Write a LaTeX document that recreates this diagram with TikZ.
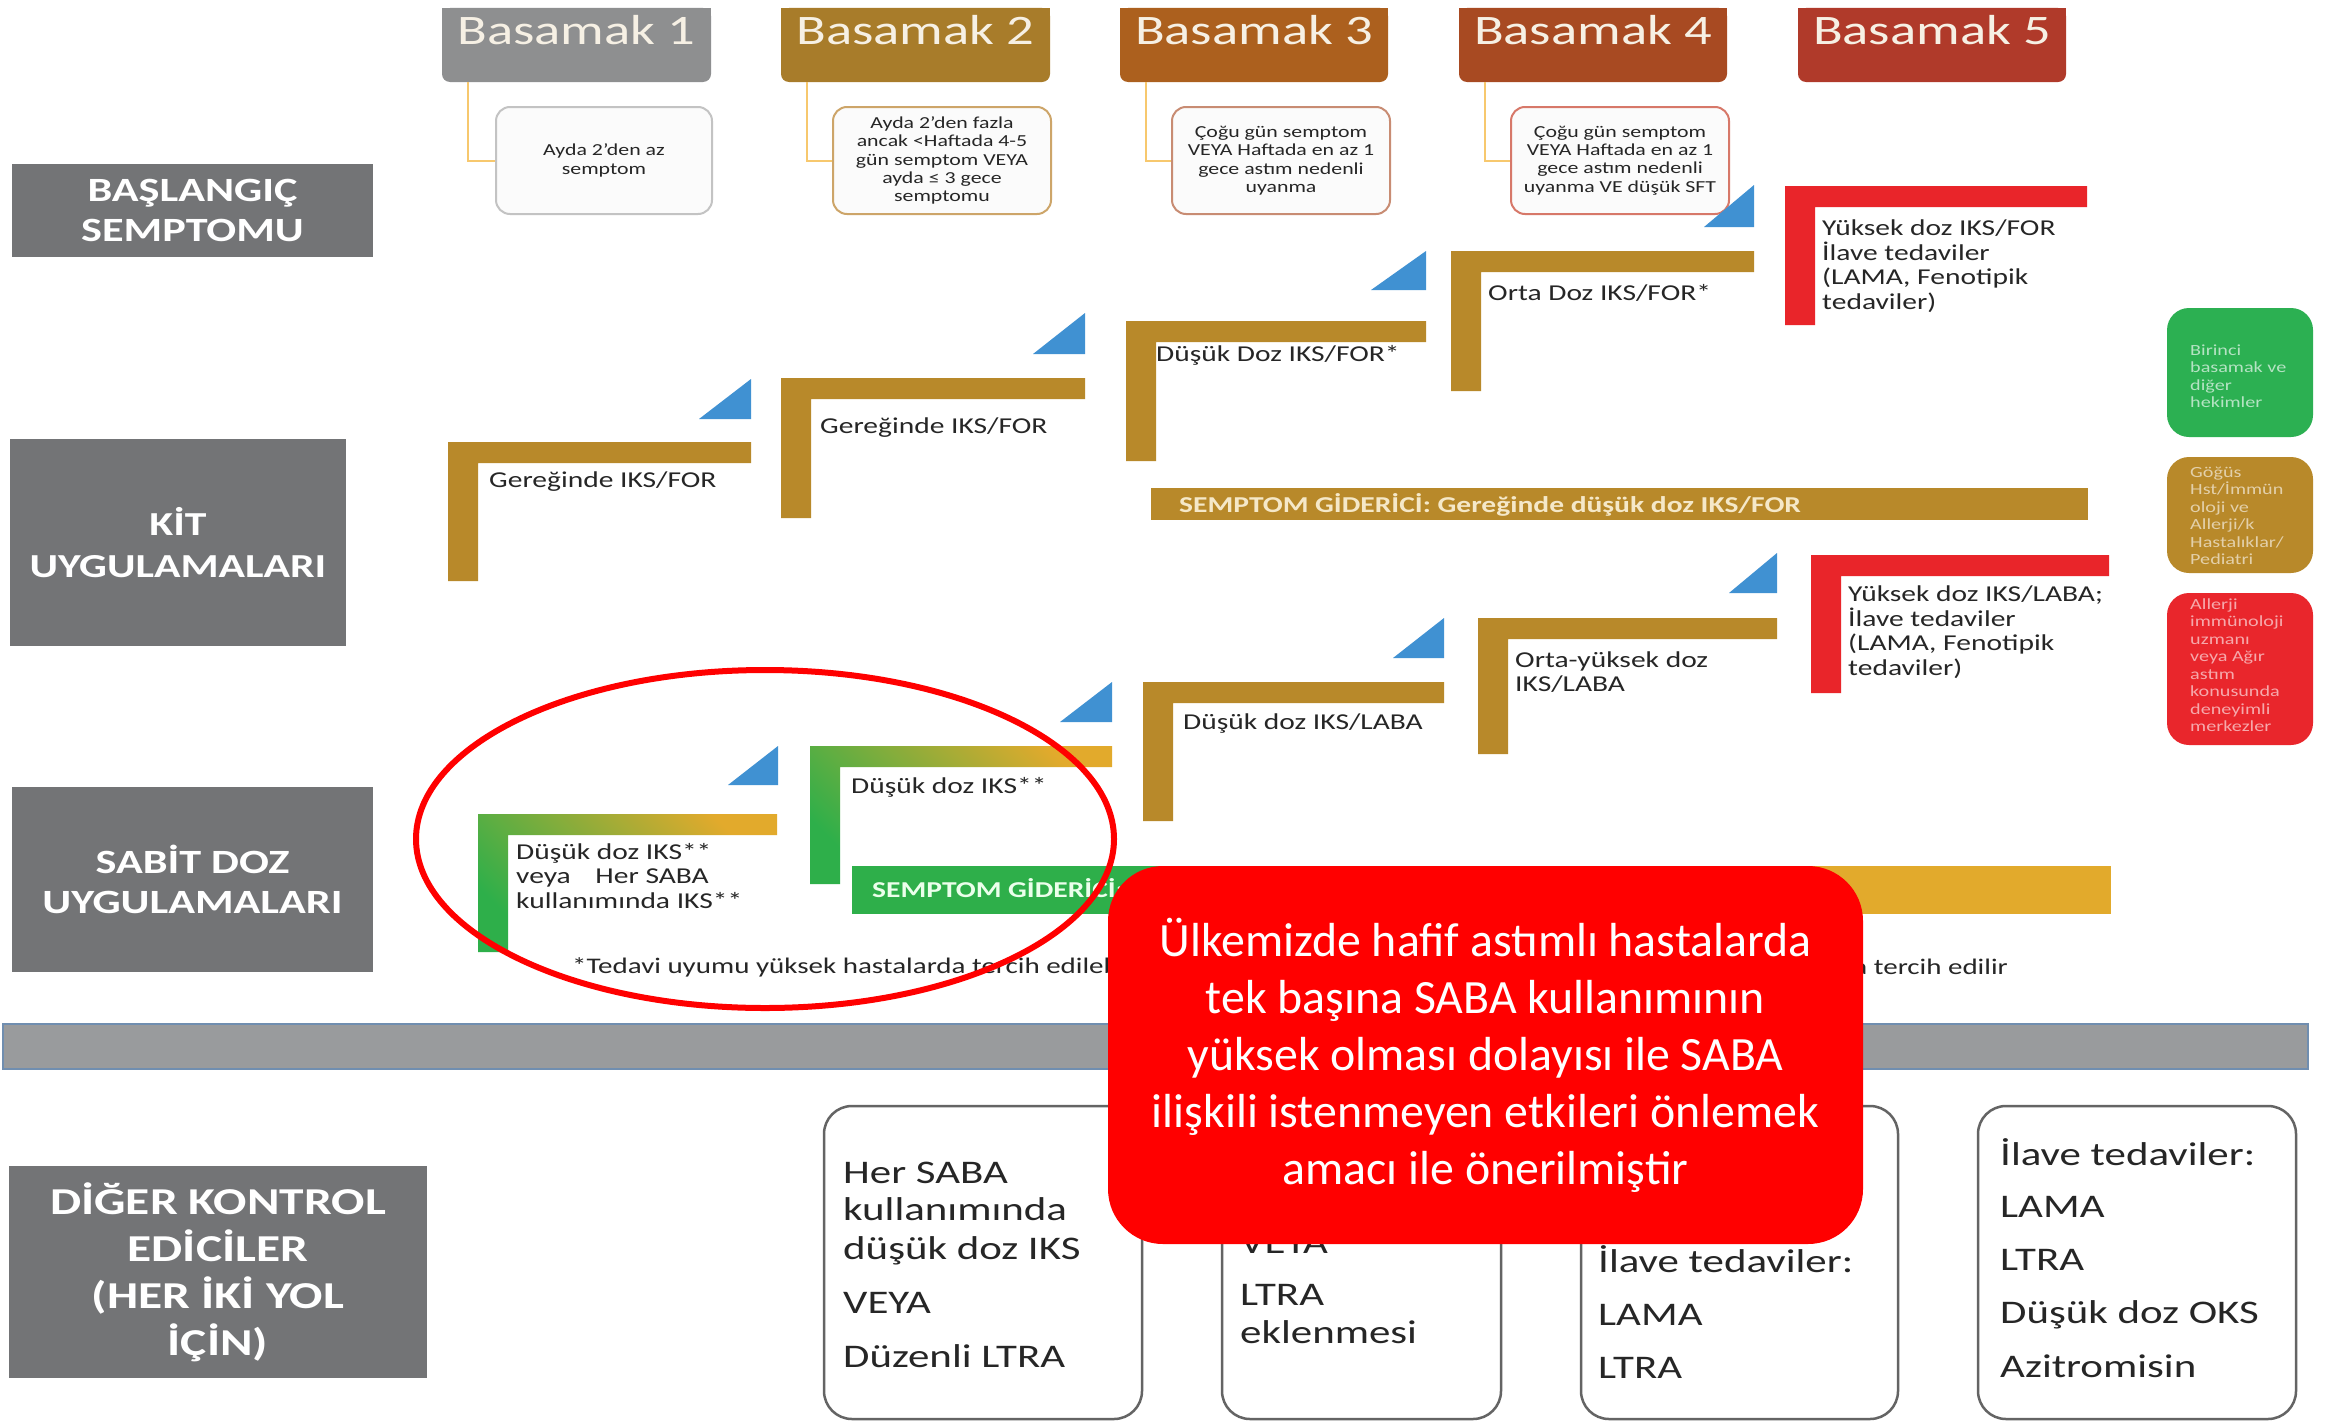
\documentclass[tikz,border=0pt]{standalone}
\usepackage{fontspec}
\setmainfont{Carlito}
\newfontfamily\widefont[FakeStretch=1.3]{Carlito}

\definecolor{hdrA}{RGB}{142,143,144}
\definecolor{hdrB}{RGB}{168,124,42}
\definecolor{hdrC}{RGB}{172,96,30}
\definecolor{hdrD}{RGB}{168,74,34}
\definecolor{hdrE}{RGB}{176,58,42}
\definecolor{hdrtext}{RGB}{246,240,228}
\definecolor{labelgrey}{RGB}{115,116,118}
\definecolor{stepgold}{RGB}{184,137,42}
\definecolor{stepred}{RGB}{233,37,42}
\definecolor{stepgreen}{RGB}{46,175,74}
\definecolor{brightgold}{RGB}{226,170,44}
\definecolor{triblue}{RGB}{64,145,210}
\definecolor{linkline}{RGB}{247,200,110}
\definecolor{bandgrey}{RGB}{153,155,157}
\definecolor{bandedge}{RGB}{112,142,176}
\definecolor{boxedge}{RGB}{100,100,100}
\definecolor{calloutred}{RGB}{255,0,0}
\definecolor{darktext}{RGB}{38,38,38}
\definecolor{cream}{RGB}{245,232,200}
\definecolor{legendgreen}{RGB}{44,176,82}
\definecolor{legendgold}{RGB}{184,137,42}
\definecolor{legendred}{RGB}{233,38,44}
\definecolor{sedgeA}{RGB}{195,195,195}
\definecolor{sedgeB}{RGB}{205,165,105}
\definecolor{sedgeC}{RGB}{200,140,115}
\definecolor{sedgeD}{RGB}{215,120,105}

% thick L-shaped stair step: corner (x0,y0), right end x1, bottom y1
\newcommand{\stair}[5]{%
  \path[#5] (#1,#2) -- (#3,#2) -- (#3,#2+21) -- (#1+30,#2+21) -- (#1+30,#4) -- (#1,#4) -- cycle;}
% small rising wedge: left x, right x, top y, bottom y
\newcommand{\risetri}[4]{\fill[triblue] (#1,#4) -- (#2,#4) -- (#2,#3) -- cycle;}

\tikzset{
  hdrbox/.style={rounded corners=8pt, minimum height=74pt, inner sep=0pt},
  hdrtxt/.style={anchor=base, inner sep=0pt, text=hdrtext,
    font=\widefont\fontsize{42}{48}\selectfont},
  sympbox/.style={rounded corners=14pt, line width=2pt, fill=white!97!gray,
    minimum height=107pt, inner sep=0pt, align=center, text=darktext,
    font=\widefont\fontsize{16.8}{18.4}\selectfont},
  link/.style={draw=linkline, line width=2pt},
  rowlabel/.style={fill=labelgrey, inner sep=0pt, align=center, text=white},
  steptxt/.style={anchor=west, inner sep=0pt, align=left, text=darktext,
    font=\widefont\fontsize{22.7}{24.5}\selectfont},
  bartxt/.style={anchor=west, inner sep=0pt, text=cream,
    font=\widefont\bfseries\fontsize{22.7}{26}\selectfont},
  foot/.style={inner sep=0pt, text=darktext,
    font=\widefont\fontsize{22.3}{26}\selectfont},
  legendbox/.style={rounded corners=22pt, minimum width=146pt, inner sep=0pt},
  legendtxt/.style={anchor=west, inner sep=0pt, align=left,
    font=\widefont\fontsize{15.5}{17.5}\selectfont},
  ctrlbox/.style={draw=boxedge, line width=2.5pt, fill=white, rounded corners=28pt},
  btxt/.style={anchor=base west, inner sep=0pt, text=darktext,
    font=\widefont\fontsize{33}{38}\selectfont},
  fadedstep/.style={top color=brightgold, bottom color=stepgreen, shading angle=-45},
}

\begin{document}
\begin{tikzpicture}[x=1pt,y=-1pt]
\useasboundingbox (0,0) rectangle (2341,1421);
\fill[white] (0,0) rectangle (2341,1421);

% ---------- step headers ----------
\fill[hdrA] (442,8) rectangle (711,45);
\node[hdrbox, fill=hdrA, minimum width=269pt] (h1) at (576.5,45) {};
\node[hdrtxt] (h1t) at (576.5,45) {Basamak 1};
\fill[hdrB] (781,8) rectangle (1050,45);
\node[hdrbox, fill=hdrB, minimum width=269pt] (h2) at (915.5,45) {};
\node[hdrtxt] (h2t) at (915.5,45) {Basamak 2};
\fill[hdrC] (1120,8) rectangle (1388,45);
\node[hdrbox, fill=hdrC, minimum width=268pt] (h3) at (1254,45) {};
\node[hdrtxt] (h3t) at (1254,45) {Basamak 3};
\fill[hdrD] (1459,8) rectangle (1727,45);
\node[hdrbox, fill=hdrD, minimum width=268pt] (h4) at (1593,45) {};
\node[hdrtxt] (h4t) at (1593,45) {Basamak 4};
\fill[hdrE] (1798,8) rectangle (2066,45);
\node[hdrbox, fill=hdrE, minimum width=268pt] (h5) at (1932,45) {};
\node[hdrtxt] (h5t) at (1932,45) {Basamak 5};

% ---------- initial symptom boxes ----------
\node[sympbox, draw=sedgeA, minimum width=216pt] (s1) at (604,160.5)
  {Ayda 2’den az\\semptom};
\node[sympbox, draw=sedgeB, minimum width=218pt] (s2) at (942,160.5)
  {Ayda 2’den fazla\\ancak <Haftada 4-5\\gün semptom VEYA\\ayda ≤ 3 gece\\semptomu};
\node[sympbox, draw=sedgeC, minimum width=218pt] (s3) at (1281,160.5)
  {Çoğu gün semptom\\VEYA Haftada en az 1\\gece astım nedenli\\uyanma};
\node[sympbox, draw=sedgeD, minimum width=218pt] (s4) at (1620,160.5)
  {Çoğu gün semptom\\VEYA Haftada en az 1\\gece astım nedenli\\uyanma VE düşük SFT};

\draw[link] ([xshift=26pt]h1.south west) |- (s1.west);
\draw[link] ([xshift=26pt]h2.south west) |- (s2.west);
\draw[link] ([xshift=26pt]h3.south west) |- (s3.west);
\draw[link] ([xshift=26pt]h4.south west) |- (s4.west);

% ---------- row labels ----------
\node[rowlabel, minimum width=361pt, minimum height=93pt,
  font=\widefont\bfseries\fontsize{34}{40}\selectfont] (lab1) at (192.5,210.5)
  {BAŞLANGIÇ\\SEMPTOMU};
\node[rowlabel, minimum width=336pt, minimum height=207pt,
  font=\widefont\bfseries\fontsize{33.6}{42}\selectfont] (lab2) at (178,542.5)
  {KİT\\UYGULAMALARI};
\node[rowlabel, minimum width=361pt, minimum height=185pt,
  font=\widefont\bfseries\fontsize{34}{40}\selectfont] (lab3) at (192.5,879.5)
  {SABİT DOZ\\UYGULAMALARI};
\node[rowlabel, minimum width=418pt, minimum height=212pt,
  font=\widefont\bfseries\fontsize{38}{47}\selectfont] (lab4) at (218,1272)
  {DİĞER KONTROL\\EDİCİLER\\(HER İKİ YOL\\İÇİN)};

% ---------- single inhaler track ----------
\stair{448}{442}{751}{581}{fill=stepgold}
\stair{781}{378}{1085}{518}{fill=stepgold}
\stair{1126}{321}{1426}{461}{fill=stepgold}
\stair{1451}{251}{1754}{391}{fill=stepgold}
\stair{1785}{186}{2087}{325}{fill=stepred}
\risetri{699}{751}{379}{419}
\risetri{1033}{1085}{313}{354}
\risetri{1371}{1426}{251}{290}
\risetri{1704}{1754}{185}{227}

\node[steptxt] (k1) at (489,482) {Gereğinde IKS/FOR};
\node[steptxt] (k2) at (820,428) {Gereğinde IKS/FOR};
\node[steptxt] (k3) at (1156,355) {Düşük Doz IKS/FOR*};
\node[steptxt] (k4) at (1488,293) {Orta Doz IKS/FOR*};
\node[steptxt] (k5) at (1822,266)
  {Yüksek doz IKS/FOR\\İlave tedaviler\\(LAMA, Fenotipik\\tedaviler)};

\fill[stepgold] (1151,488) rectangle (2088,520);
\node[bartxt] (kbar) at (1179,505) {SEMPTOM GİDERİCİ: Gereğinde düşük doz IKS/FOR};

% ---------- fixed dose track ----------
\stair{478}{814}{777}{952}{fadedstep}
\stair{810}{746}{1112}{884}{fadedstep}
\stair{1143}{682}{1444}{821}{fill=stepgold}
\stair{1478}{618}{1777}{754}{fill=stepgold}
\stair{1811}{555}{2109}{693}{fill=stepred}
\risetri{728}{778}{746}{785}
\risetri{1060}{1112}{682}{722}
\risetri{1393}{1444}{618}{658}
\risetri{1729}{1777}{553}{593}

\node[steptxt] (f1) at (516,876)
  {Düşük doz IKS**\\veya\hspace{18pt} Her SABA\\kullanımında IKS**};
\node[steptxt] (f2) at (851,787) {Düşük doz IKS**};
\node[steptxt] (f3) at (1183,724) {Düşük doz IKS/LABA};
\node[steptxt] (f4) at (1515,672) {Orta-yüksek doz\\IKS/LABA};
\node[steptxt] (f5) at (1848,632)
  {Yüksek doz IKS/LABA;\\İlave tedaviler\\(LAMA, Fenotipik\\tedaviler)};

\fill[stepgreen] (852,866) rectangle (1200,914);
\shade[left color=stepgreen, right color=brightgold] (1200,866) rectangle (1700,914);
\fill[brightgold] (1700,866) rectangle (2111,914);
\node[bartxt, text=white!92!green] (fbar) at (872,890) {SEMPTOM GİDERİCİ: Gereğinde SABA};

\node[foot, anchor=west] (fn1) at (572,967) {*Tedavi uyumu yüksek hastalarda tercih edilebilir};
\node[foot, anchor=east] (fn2) at (2008,967) {a tercih edilir};

% ---------- referral legend ----------
\node[legendbox, fill=legendgreen, minimum height=129pt] (lg1) at (2240,372.5) {};
\node[legendtxt, text=legendgreen!35!white] (lg1t) at (2190,376)
  {Birinci\\basamak ve\\diğer\\hekimler};
\node[legendbox, fill=legendgold, minimum height=116pt] (lg2) at (2240,515) {};
\node[legendtxt, text=legendgold!40!white] (lg2t) at (2190,516)
  {Göğüs\\Hst/İmmün\\oloji ve\\Allerji/k\\Hastalıklar/\\Pediatri};
\node[legendbox, fill=legendred, minimum height=152pt] (lg3) at (2240,669) {};
\node[legendtxt, text=legendred!40!white] (lg3t) at (2190,665)
  {Allerji\\immünoloji\\uzmanı\\veya Ağır\\astım\\konusunda\\deneyimli\\merkezler};

% ---------- divider band ----------
\draw[fill=bandgrey, draw=bandedge, line width=2pt] (3,1024) rectangle (2308,1069);

% ---------- other controllers ----------
\draw[ctrlbox] (824,1106) rectangle (1142,1419);
\draw[ctrlbox] (1222,1106) rectangle (1501,1419);
\draw[ctrlbox] (1581,1106) rectangle (1898,1419);
\draw[ctrlbox] (1978,1106) rectangle (2296,1419);

\foreach \txt/\yy [count=\k] in {Her SABA/1183, kullanımında/1220,
    düşük doz IKS/1259, VEYA/1313, Düzenli LTRA/1367}
  \node[btxt] (ca\k) at (843,\yy) {\txt};
\foreach \txt/\yy [count=\k] in {VEYA/1253, LTRA/1305, eklenmesi/1343}
  \node[btxt] (cb\k) at (1240,\yy) {\txt};
\foreach \txt/\yy [count=\k] in {İlave tedaviler:/1272, LAMA/1325, LTRA/1378}
  \node[btxt] (cc\k) at (1598,\yy) {\txt};
\foreach \txt/\yy [count=\k] in {İlave tedaviler:/1165, LAMA/1217, LTRA/1270,
    Düşük doz OKS/1323, Azitromisin/1377}
  \node[btxt] (cd\k) at (2000,\yy) {\txt};

% ---------- highlight ring and note ----------
\draw[calloutred, line width=6pt] (765,839) ellipse [x radius=349pt, y radius=169pt];

\node[fill=calloutred, rounded corners=55pt, minimum width=755pt, minimum height=378pt,
  inner sep=0pt, align=center, text=white, font=\fontsize{47.8}{57}\selectfont]
  (note) at (1485.5,1055)
  {Ülkemizde hafif astımlı hastalarda\\tek başına SABA kullanımının\\yüksek olması dolayısı ile SABA\\ilişkili istenmeyen etkileri önlemek\\amacı ile önerilmiştir};

\end{tikzpicture}
\end{document}
